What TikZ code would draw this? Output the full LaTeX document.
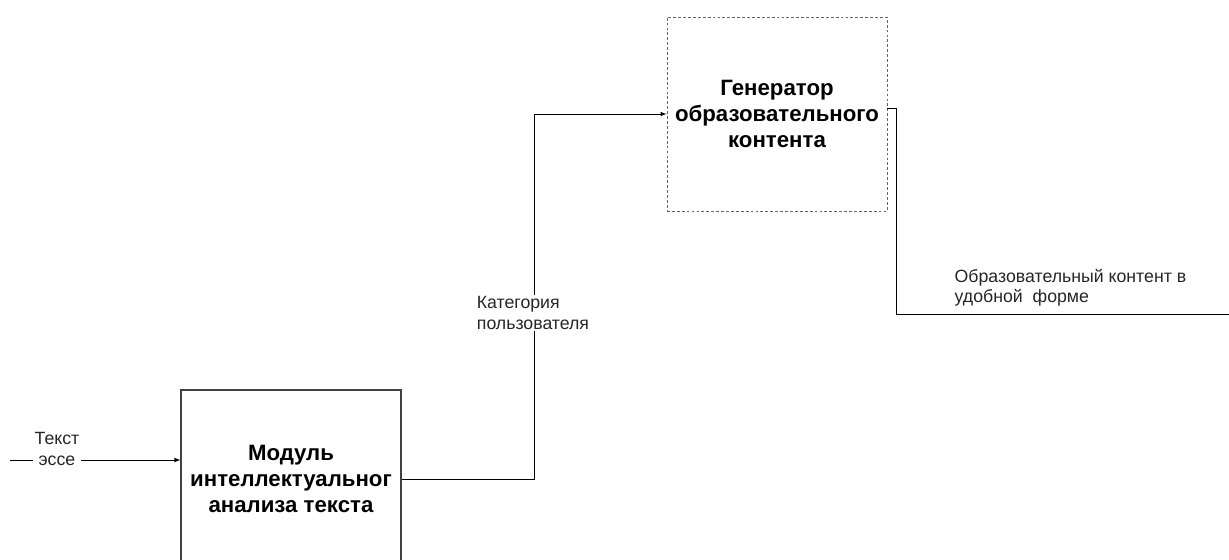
\documentclass[tikz,border=0pt]{standalone}
\usepackage{fontspec}
\setmainfont{Liberation Sans}
\usetikzlibrary{calc,positioning}

\begin{document}
\begin{tikzpicture}[x=0.025cm,y=-0.025cm]

\tikzstyle{block} = [rectangle, draw=black!75, line width=0.8pt, fill=white, minimum width=5.5cm, align=center, font=\fontsize{15.8}{18.6}\selectfont\bfseries, text=black]
\tikzstyle{genblock} = [block, draw=black!60, dashed, dash pattern=on 2pt off 1.5pt, line width=0.6pt]
\tikzstyle{flowlabel} = [fill=white, inner sep=1pt, align=left, font=\fontsize{12.6}{14.5}\selectfont, text=black!85]
\tikzstyle{flowarc} = [->, >=latex, line width=0.5pt]

\useasboundingbox (0,0) rectangle (1229,559);
\clip (0,0) rectangle (1229,559);

\node[block, minimum height=4.45cm] (module) at (291,479) {Модуль\\интеллектуальног\\анализа текста};
\node[genblock, minimum height=4.85cm] (generator) at (777,114) {Генератор\\образовательного\\контента};

\coordinate (essein) at (10,460);
\coordinate (outend) at (1229,314);

\draw[flowarc] (essein) -- (essein -| module.west);
\node[flowlabel, align=center] (essetext) at (57,449) {Текст\\эссе};

\draw[flowarc] (module.east) -- ++(133,0) |- (generator.west);
\node[flowlabel] (cattext) at (533,313) {Категория\\пользователя};

\draw[line width=0.5pt] (generator.3) -- ++(9,0) |- (outend);
\node[flowlabel, fill=none, anchor=west] (outtext) at (953,288) {Образовательный контент в\\удобной\ \ форме};

\end{tikzpicture}
\end{document}
